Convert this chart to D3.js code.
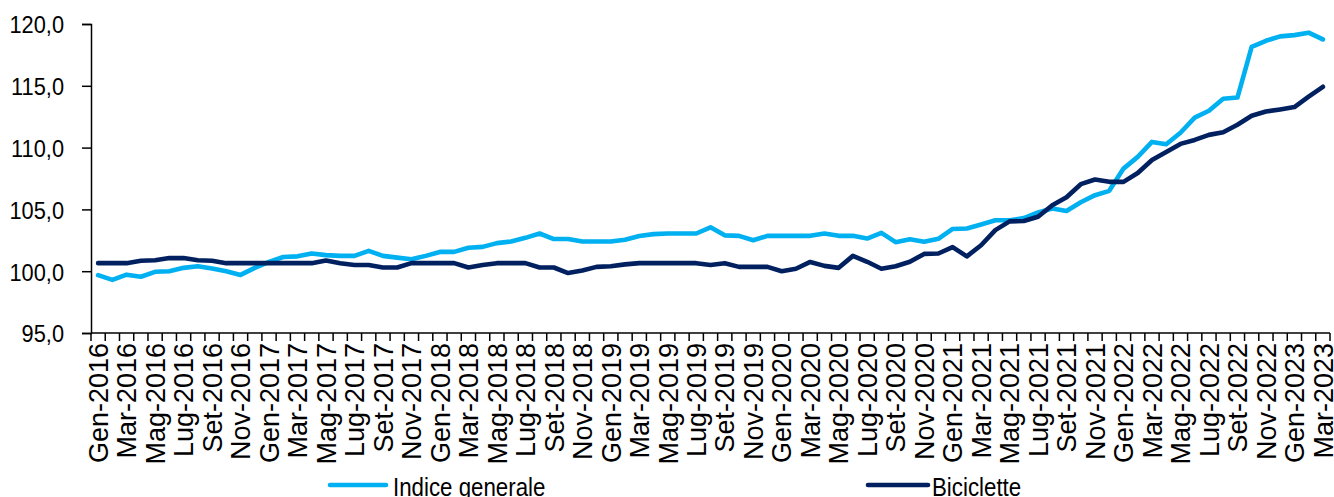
<!DOCTYPE html>
<html><head><meta charset="utf-8">
<script src="https://cdn.jsdelivr.net/npm/d3@7"></script>
<style>
body{margin:0;background:#fff;}
svg{display:block;}
text{font-family:"Liberation Sans",Arial,sans-serif;fill:#000;}
</style>
</head><body>
<svg id="c" width="1334" height="497"></svg>
<script>
const categories = [
"Gen-2016","Feb-2016","Mar-2016","Apr-2016","Mag-2016","Giu-2016","Lug-2016","Ago-2016","Set-2016","Ott-2016","Nov-2016","Dic-2016",
"Gen-2017","Feb-2017","Mar-2017","Apr-2017","Mag-2017","Giu-2017","Lug-2017","Ago-2017","Set-2017","Ott-2017","Nov-2017","Dic-2017",
"Gen-2018","Feb-2018","Mar-2018","Apr-2018","Mag-2018","Giu-2018","Lug-2018","Ago-2018","Set-2018","Ott-2018","Nov-2018","Dic-2018",
"Gen-2019","Feb-2019","Mar-2019","Apr-2019","Mag-2019","Giu-2019","Lug-2019","Ago-2019","Set-2019","Ott-2019","Nov-2019","Dic-2019",
"Gen-2020","Feb-2020","Mar-2020","Apr-2020","Mag-2020","Giu-2020","Lug-2020","Ago-2020","Set-2020","Ott-2020","Nov-2020","Dic-2020",
"Gen-2021","Feb-2021","Mar-2021","Apr-2021","Mag-2021","Giu-2021","Lug-2021","Ago-2021","Set-2021","Ott-2021","Nov-2021","Dic-2021",
"Gen-2022","Feb-2022","Mar-2022","Apr-2022","Mag-2022","Giu-2022","Lug-2022","Ago-2022","Set-2022","Ott-2022","Nov-2022","Dic-2022",
"Gen-2023","Feb-2023","Mar-2023"
];

const indiceGenerale = [
99.68, 99.3, 99.72, 99.55, 99.95, 100.0, 100.27, 100.4, 100.22, 100.0, 99.7, 100.27,
100.75, 101.15, 101.2, 101.43, 101.3, 101.24, 101.24, 101.65, 101.24, 101.1, 100.97, 101.24,
101.56, 101.56, 101.9, 101.97, 102.27, 102.4, 102.7, 103.05, 102.6, 102.6, 102.4, 102.4,
102.4, 102.55, 102.85, 103.0, 103.05, 103.05, 103.05, 103.55, 102.9, 102.86, 102.5, 102.86,
102.86, 102.86, 102.86, 103.05, 102.86, 102.86, 102.64, 103.1, 102.35, 102.58, 102.38, 102.62,
103.42, 103.45, 103.78, 104.12, 104.12, 104.3, 104.75, 105.07, 104.87, 105.58, 106.15, 106.5,
108.3, 109.25, 110.46, 110.27, 111.2, 112.42, 112.98, 113.95, 114.05, 118.15, 118.64, 119.0,
119.1, 119.3, 118.75
];

const biciclette = [
100.65, 100.65, 100.65, 100.85, 100.88, 101.06, 101.06, 100.88, 100.85, 100.65, 100.65, 100.65,
100.65, 100.65, 100.65, 100.65, 100.87, 100.65, 100.5, 100.5, 100.3, 100.3, 100.65, 100.65,
100.65, 100.65, 100.3, 100.5, 100.65, 100.65, 100.65, 100.3, 100.3, 99.85, 100.05, 100.35,
100.4, 100.55, 100.65, 100.65, 100.65, 100.65, 100.65, 100.5, 100.65, 100.35, 100.35, 100.35,
100.0, 100.2, 100.75, 100.43, 100.27, 101.24, 100.76, 100.2, 100.4, 100.76, 101.4, 101.43,
101.95, 101.2, 102.1, 103.32, 104.03, 104.06, 104.4, 105.34, 105.98, 107.04, 107.42, 107.23,
107.23, 107.95, 109.0, 109.65, 110.3, 110.62, 111.03, 111.24, 111.85, 112.58, 112.92, 113.09,
113.28, 114.12, 114.92
];

const yTicks = [95, 100, 105, 110, 115, 120];
const seriesNames = ["Indice generale", "Biciclette"];
const seriesColors = ["#00B0F0", "#002060"];

const svg = d3.select("#c");
const x = d3.scaleBand().domain(categories).range([91, 1330]).padding(0);
const y = d3.scaleLinear().domain([95, 120]).range([333, 24]);
const cx = d => x(d) + x.bandwidth() / 2;

// Y axis
const yAxis = svg.append("g").attr("transform", "translate(91,0)")
  .call(d3.axisLeft(y).tickValues(yTicks).tickSize(9).tickPadding(18)
    .tickFormat(d => d3.format(".1f")(d).replace(".", ",")));
yAxis.select(".domain").attr("stroke", "#000").attr("stroke-width", 1.5);
yAxis.selectAll(".tick line").attr("stroke", "#000").attr("stroke-width", 1.5);
yAxis.selectAll(".tick text")
  .attr("font-size", 21.8)
  .attr("font-family", "'Liberation Sans', Arial, sans-serif")
  .attr("fill", "#000")
  .attr("dy", "0.36em")
  .attr("transform", "scale(1,1.12)");

// X axis line and ticks at category boundaries
const xAxisG = svg.append("g");
xAxisG.append("line").attr("x1", 91).attr("x2", 1330).attr("y1", y(95)).attr("y2", y(95))
  .attr("stroke", "#000").attr("stroke-width", 1.5);
const bounds = categories.map(c => x(c)).concat([x.range()[1]]);
xAxisG.selectAll("line.tk").data(bounds).join("line").attr("class", "tk")
  .attr("x1", d => d).attr("x2", d => d)
  .attr("y1", y(95)).attr("y2", y(95) + 8)
  .attr("stroke", "#000").attr("stroke-width", 1.5);

// X labels every 2 months
const labelCats = categories.filter((c, i) => i % 2 === 0);
xAxisG.selectAll("text.xl").data(labelCats).join("text").attr("class", "xl")
  .attr("transform", d => `translate(${cx(d)},343) rotate(-90)`)
  .attr("text-anchor", "end")
  .attr("dy", "0.36em")
  .attr("font-size", 27)
  .text(d => d);

// Lines
const line = d3.line().x((d, i) => cx(categories[i])).y(d => y(d));
[indiceGenerale, biciclette].forEach((s, k) => {
  svg.append("path").datum(s)
    .attr("d", line)
    .attr("fill", "none")
    .attr("stroke", seriesColors[k])
    .attr("stroke-width", 4.6)
    .attr("stroke-linejoin", "round")
    .attr("stroke-linecap", "round");
});

// Legend
const legendPos = [{x1: 330, x2: 386, tx: 393}, {x1: 868, x2: 928, tx: 932}];
seriesNames.forEach((n, k) => {
  const p = legendPos[k];
  svg.append("line").attr("x1", p.x1).attr("x2", p.x2).attr("y1", 485).attr("y2", 485)
    .attr("stroke", seriesColors[k]).attr("stroke-width", 4.6).attr("stroke-linecap", "round");
  svg.append("text").attr("transform", `translate(${p.tx},496) scale(1,1.15)`)
    .attr("font-size", 22.3).text(n);
});
</script>
</body></html>
